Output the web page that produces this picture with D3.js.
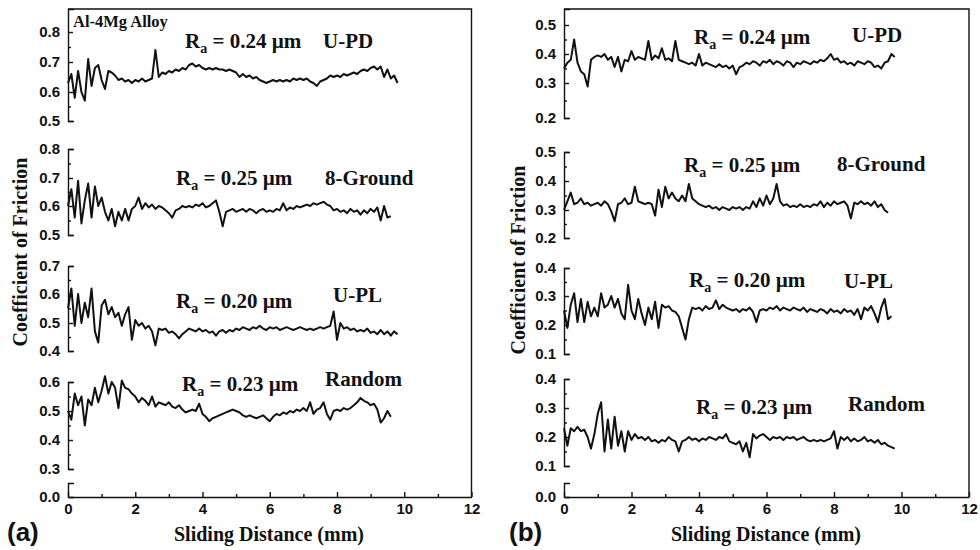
<!DOCTYPE html>
<html>
<head>
<meta charset="utf-8">
<script src="https://cdnjs.cloudflare.com/ajax/libs/d3/7.8.5/d3.min.js"></script>
<style>
  body { margin: 0; background: #fff; }
</style>
</head>
<body>
<div id="area"></div>
<script>
// sampling step along the sliding distance (mm)
var distanceStep = 0.1;
var xTicks = [0, 2, 4, 6, 8, 10, 12];
var surfaceNames = ['U-PD', '8-Ground', 'U-PL', 'Random'];
var roughness = ['0.24', '0.25', '0.20', '0.23'];
var yTicksA = [[0.5, 0.6, 0.7, 0.8], [0.5, 0.6, 0.7, 0.8], [0.4, 0.5, 0.6, 0.7], [0.3, 0.4, 0.5, 0.6]];
var yTicksB = [[0.2, 0.3, 0.4, 0.5], [0.2, 0.3, 0.4, 0.5], [0.1, 0.2, 0.3, 0.4], [0.1, 0.2, 0.3, 0.4]];

// (a) coefficient of friction, every 0.1 mm
var aUPD = [0.63,0.66,0.58,0.67,0.60,0.57,0.71,0.62,0.68,0.69,
  0.64,0.61,0.67,0.665,0.655,0.64,0.645,0.635,0.64,0.63,
  0.64,0.635,0.645,0.635,0.64,0.645,0.74,0.65,0.665,0.66,
  0.67,0.665,0.675,0.67,0.68,0.675,0.69,0.695,0.685,0.69,
  0.68,0.675,0.68,0.675,0.68,0.675,0.675,0.67,0.675,0.67,
  0.665,0.65,0.66,0.65,0.655,0.645,0.65,0.64,0.635,0.63,
  0.635,0.64,0.635,0.64,0.635,0.64,0.635,0.645,0.64,0.645,
  0.64,0.645,0.635,0.63,0.62,0.635,0.64,0.645,0.655,0.65,
  0.655,0.65,0.66,0.655,0.66,0.665,0.66,0.67,0.675,0.67,
  0.68,0.685,0.675,0.685,0.65,0.675,0.645,0.655,0.63];
var aGround = [0.60,0.66,0.56,0.69,0.54,0.62,0.68,0.56,0.67,0.60,
  0.63,0.58,0.55,0.59,0.53,0.58,0.55,0.59,0.55,0.59,
  0.60,0.63,0.59,0.61,0.595,0.605,0.59,0.60,0.595,0.585,
  0.575,0.56,0.585,0.59,0.60,0.595,0.60,0.595,0.605,0.60,
  0.61,0.595,0.60,0.61,0.62,0.58,0.53,0.58,0.585,0.59,
  0.58,0.585,0.59,0.58,0.59,0.585,0.575,0.585,0.59,0.58,
  0.585,0.58,0.59,0.585,0.61,0.585,0.595,0.59,0.60,0.595,
  0.60,0.605,0.60,0.61,0.605,0.61,0.615,0.605,0.60,0.585,
  0.59,0.58,0.585,0.575,0.59,0.58,0.585,0.57,0.585,0.575,
  0.59,0.58,0.595,0.55,0.60,0.56,0.565];
var aUPL = [0.55,0.62,0.49,0.60,0.50,0.57,0.52,0.62,0.47,0.43,
  0.56,0.58,0.53,0.555,0.52,0.535,0.49,0.53,0.555,0.44,
  0.51,0.49,0.50,0.48,0.49,0.47,0.42,0.48,0.475,0.48,
  0.465,0.47,0.46,0.445,0.46,0.47,0.48,0.475,0.47,0.48,
  0.47,0.475,0.465,0.47,0.455,0.47,0.475,0.465,0.475,0.47,
  0.48,0.475,0.485,0.48,0.475,0.485,0.48,0.49,0.48,0.475,
  0.485,0.48,0.485,0.475,0.48,0.485,0.48,0.475,0.48,0.485,
  0.48,0.475,0.48,0.475,0.48,0.485,0.48,0.485,0.49,0.54,
  0.44,0.50,0.48,0.485,0.475,0.48,0.47,0.475,0.47,0.48,
  0.465,0.47,0.46,0.475,0.46,0.47,0.455,0.47,0.46];
var aRandom = [0.50,0.47,0.56,0.52,0.55,0.45,0.54,0.52,0.58,0.53,
  0.57,0.62,0.56,0.60,0.58,0.51,0.605,0.58,0.575,0.56,
  0.55,0.53,0.545,0.535,0.52,0.55,0.515,0.53,0.525,0.52,
  0.53,0.515,0.51,0.52,0.505,0.495,0.50,0.505,0.50,0.525,
  0.49,0.48,0.465,0.475,0.48,0.485,0.49,0.495,0.50,0.505,
  0.50,0.495,0.485,0.48,0.485,0.48,0.475,0.48,0.485,0.475,
  0.465,0.48,0.49,0.485,0.495,0.49,0.50,0.495,0.505,0.50,
  0.51,0.50,0.53,0.49,0.505,0.51,0.53,0.49,0.47,0.50,
  0.505,0.50,0.51,0.505,0.51,0.52,0.53,0.545,0.535,0.53,
  0.52,0.525,0.505,0.46,0.475,0.50,0.48];

// (b)
var bUPD = [0.35,0.37,0.38,0.45,0.37,0.34,0.33,0.29,0.38,0.39,
  0.395,0.39,0.40,0.38,0.39,0.355,0.39,0.34,0.38,0.375,
  0.41,0.38,0.39,0.385,0.38,0.445,0.38,0.395,0.385,0.42,
  0.38,0.385,0.375,0.445,0.38,0.375,0.37,0.365,0.37,0.36,
  0.40,0.36,0.37,0.365,0.36,0.355,0.365,0.355,0.36,0.35,
  0.36,0.33,0.355,0.36,0.37,0.365,0.375,0.37,0.36,0.375,
  0.37,0.38,0.365,0.375,0.37,0.36,0.375,0.37,0.355,0.37,
  0.365,0.375,0.37,0.365,0.375,0.37,0.38,0.375,0.385,0.40,
  0.38,0.385,0.37,0.375,0.365,0.37,0.36,0.375,0.37,0.365,
  0.375,0.37,0.355,0.36,0.35,0.37,0.375,0.40,0.39];
var bGround = [0.30,0.33,0.36,0.32,0.325,0.34,0.32,0.325,0.315,0.32,
  0.325,0.315,0.33,0.32,0.295,0.26,0.32,0.325,0.34,0.32,
  0.325,0.38,0.33,0.325,0.32,0.325,0.32,0.28,0.37,0.31,
  0.38,0.34,0.36,0.34,0.33,0.35,0.33,0.39,0.34,0.33,
  0.32,0.315,0.31,0.315,0.305,0.31,0.30,0.31,0.305,0.30,
  0.31,0.305,0.31,0.30,0.31,0.305,0.33,0.31,0.34,0.315,
  0.35,0.32,0.34,0.39,0.33,0.315,0.32,0.31,0.315,0.31,
  0.32,0.31,0.315,0.31,0.32,0.315,0.33,0.31,0.325,0.315,
  0.33,0.32,0.325,0.33,0.315,0.27,0.325,0.32,0.33,0.32,
  0.325,0.315,0.33,0.31,0.32,0.30,0.29];
var bUPL = [0.25,0.19,0.27,0.31,0.21,0.29,0.21,0.28,0.23,0.26,
  0.23,0.31,0.26,0.27,0.30,0.26,0.29,0.24,0.22,0.34,
  0.25,0.22,0.29,0.24,0.20,0.26,0.22,0.28,0.19,0.27,
  0.26,0.265,0.25,0.245,0.23,0.19,0.15,0.22,0.26,0.255,
  0.26,0.25,0.265,0.255,0.26,0.285,0.255,0.27,0.26,0.255,
  0.25,0.255,0.245,0.255,0.25,0.26,0.245,0.21,0.25,0.255,
  0.25,0.26,0.255,0.265,0.25,0.26,0.255,0.25,0.26,0.255,
  0.25,0.26,0.245,0.255,0.25,0.245,0.255,0.25,0.24,0.255,
  0.245,0.25,0.24,0.255,0.245,0.25,0.235,0.255,0.22,0.26,
  0.25,0.265,0.24,0.21,0.26,0.29,0.22,0.23];
var bRandom = [0.23,0.17,0.23,0.22,0.235,0.22,0.225,0.20,0.16,0.21,
  0.28,0.32,0.15,0.26,0.16,0.27,0.17,0.22,0.15,0.22,
  0.19,0.21,0.195,0.20,0.19,0.20,0.185,0.19,0.18,0.19,
  0.185,0.20,0.19,0.185,0.15,0.185,0.19,0.20,0.19,0.195,
  0.185,0.195,0.19,0.20,0.195,0.19,0.20,0.195,0.21,0.185,
  0.18,0.175,0.185,0.15,0.18,0.13,0.21,0.195,0.205,0.21,
  0.20,0.19,0.20,0.195,0.20,0.19,0.20,0.195,0.20,0.19,
  0.195,0.20,0.19,0.185,0.19,0.185,0.19,0.185,0.19,0.195,
  0.22,0.16,0.20,0.19,0.20,0.185,0.195,0.185,0.19,0.20,
  0.185,0.19,0.18,0.19,0.175,0.18,0.17,0.165,0.16];

var serif = '"Liberation Serif", "Times New Roman", Times, serif';
var sans = '"Liberation Sans", Arial, Helvetica, sans-serif';
var ink = '#111';

var width = 980, height = 550;
var frameTop = 9, axisY = 497;

var svg = d3.select('#area').append('svg')
  .attr('width', width)
  .attr('height', height)
  .style('display', 'block');

// layout of the two panels; tickY = pixel row of each y tick in the stacked sub axes
var panels = [
  {
    left: 68, right: 471.5,
    series: [aUPD, aGround, aUPL, aRandom],
    ticks: yTicksA,
    tickY: [[121, 92, 62, 32], [235, 206, 178, 149], [351, 323, 294, 266], [469, 440, 411, 382]],
    ra: [[185, 48], [176, 185], [176, 308], [182, 391]],
    tex: [[323, 48], [325, 185], [333, 302], [325, 386]],
    tag: '(a)', tagX: 7, xTitleX: 269, yTitle: [27, 252], alloy: true
  },
  {
    left: 564, right: 969,
    series: [bUPD, bGround, bUPL, bRandom],
    ticks: yTicksB,
    tickY: [[118, 83, 54, 25], [238, 210, 181, 152], [354, 325, 296, 268], [466, 437, 408, 379]],
    ra: [[694, 44], [684, 172], [689, 287], [696, 414]],
    tex: [[852, 42], [837, 171], [844, 288], [848, 411]],
    tag: '(b)', tagX: 509, xTitleX: 766, yTitle: [525, 260], alloy: false
  }
];

function styleAxis(sel) {
  sel.selectAll('path, line').attr('stroke', ink).attr('stroke-width', 1.4);
  sel.selectAll('text')
    .attr('fill', ink)
    .attr('font-family', sans)
    .attr('font-weight', 'bold')
    .attr('font-size', 15);
}

function raLabel(g, x, y, val) {
  var t = g.append('text')
    .attr('x', x).attr('y', y)
    .attr('font-family', serif).attr('font-weight', 'bold')
    .attr('font-size', 21).attr('fill', ink);
  t.append('tspan').text('R');
  t.append('tspan').attr('font-size', 14).attr('dy', 5).text('a');
  t.append('tspan').attr('dy', -5).text(' = ' + val + ' \u00b5m');
}

panels.forEach(function(p) {
  var g = svg.append('g');

  var x = d3.scaleLinear().domain([0, 12]).range([p.left, p.right]);

  // frame top + right side
  g.append('path')
    .attr('d', 'M' + p.left + ',' + frameTop + 'H' + p.right + 'V' + axisY)
    .attr('fill', 'none').attr('stroke', ink).attr('stroke-width', 1.4);

  // x axis with inward ticks
  g.append('g')
    .attr('transform', 'translate(0,' + axisY + ')')
    .call(d3.axisBottom(x).tickValues(xTicks).tickSizeInner(-5).tickSizeOuter(0)
      .tickPadding(6).tickFormat(d3.format('d')))
    .call(styleAxis);
  g.append('g')
    .attr('transform', 'translate(0,' + axisY + ')')
    .call(d3.axisBottom(x).tickValues(xTicks.slice(1).map(function(t) { return t - 1; }))
      .tickSize(-3).tickFormat(''))
    .call(function(s) { s.select('.domain').remove(); })
    .call(styleAxis);

  // stacked y sub axes
  p.series.forEach(function(values, k) {
    var ticks = p.ticks[k];
    var y = d3.scaleLinear().domain(ticks).range(p.tickY[k]);

    var axisScale = y;
    if (k === 0) {
      // first bracket runs up to the frame top
      axisScale = d3.scaleLinear()
        .domain(ticks.concat([y.invert(frameTop)]))
        .range(p.tickY[k].concat([frameTop]));
    }

    g.append('g')
      .attr('transform', 'translate(' + p.left + ',0)')
      .call(d3.axisLeft(axisScale).tickValues(ticks).tickSizeInner(-5).tickSizeOuter(-6)
        .tickPadding(8).tickFormat(d3.format('.1f')))
      .call(styleAxis);

    g.append('g')
      .attr('transform', 'translate(' + p.left + ',0)')
      .call(d3.axisLeft(y).tickValues(ticks.slice(1).map(function(t) { return t - 0.05; }))
        .tickSize(-3).tickFormat(''))
      .call(function(s) { s.select('.domain').remove(); })
      .call(styleAxis);

    var line = d3.line()
      .x(function(d, i) { return x(i * distanceStep); })
      .y(function(d) { return y(d); });

    g.append('path')
      .datum(values)
      .attr('d', line)
      .attr('fill', 'none')
      .attr('stroke', ink)
      .attr('stroke-width', 2)
      .attr('stroke-linejoin', 'round');

    raLabel(g, p.ra[k][0], p.ra[k][1], roughness[k]);
    g.append('text')
      .attr('x', p.tex[k][0]).attr('y', p.tex[k][1])
      .attr('font-family', serif).attr('font-weight', 'bold')
      .attr('font-size', 21).attr('fill', ink)
      .text(surfaceNames[k]);
  });

  // short bracket at zero below the axis break
  var yZero = d3.scaleLinear().domain([0, 0.05]).range([axisY, 483]);
  g.append('g')
    .attr('transform', 'translate(' + p.left + ',0)')
    .call(d3.axisLeft(yZero).tickValues([0]).tickSizeInner(0).tickSizeOuter(-6)
      .tickPadding(8).tickFormat(d3.format('.1f')))
    .call(styleAxis);

  // titles
  g.append('text')
    .attr('x', p.xTitleX).attr('y', 541)
    .attr('text-anchor', 'middle')
    .attr('font-family', serif).attr('font-weight', 'bold')
    .attr('font-size', 20).attr('fill', ink)
    .text('Sliding Distance (mm)');

  g.append('text')
    .attr('transform', 'translate(' + p.yTitle[0] + ',' + p.yTitle[1] + ') rotate(-90)')
    .attr('text-anchor', 'middle')
    .attr('font-family', serif).attr('font-weight', 'bold')
    .attr('font-size', 20).attr('fill', ink)
    .text('Coefficient of Friction');

  g.append('text')
    .attr('x', p.tagX).attr('y', 541)
    .attr('font-family', sans).attr('font-weight', 'bold')
    .attr('font-size', 26).attr('fill', ink)
    .text(p.tag);

  if (p.alloy) {
    g.append('text')
      .attr('x', 73).attr('y', 27)
      .attr('font-family', serif).attr('font-weight', 'bold')
      .attr('font-size', 16.5).attr('fill', ink)
      .text('Al-4Mg Alloy');
  }
});
</script>
</body>
</html>
